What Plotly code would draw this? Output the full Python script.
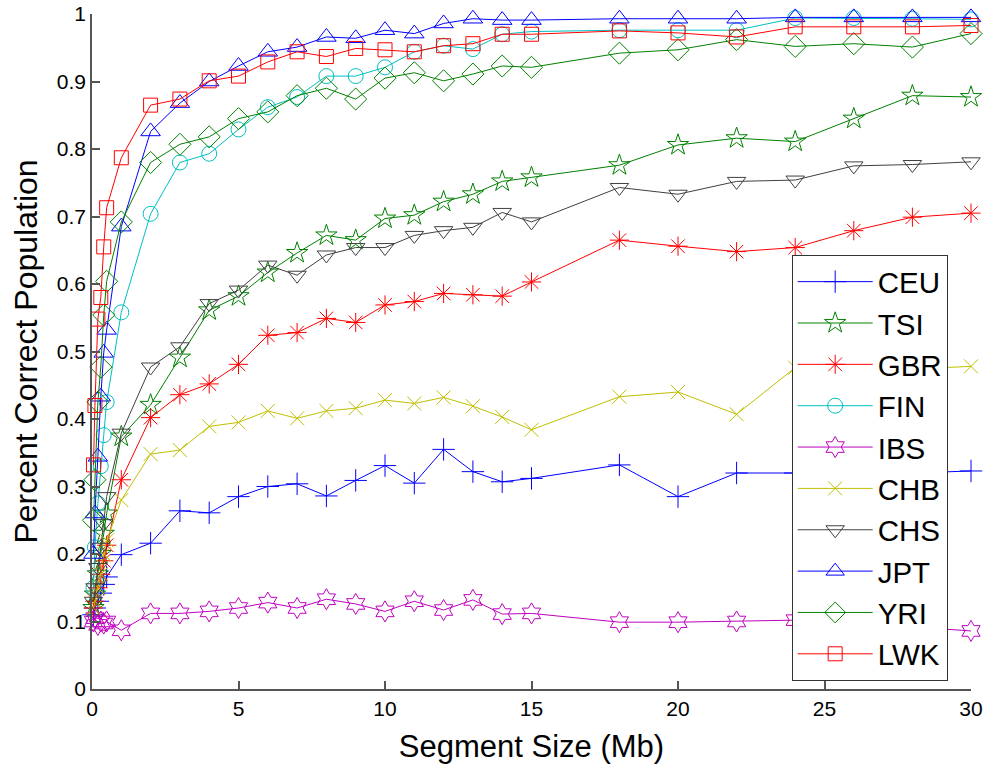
import plotly.graph_objects as go

# Segment sizes (Mb)
seg_size = [0.05, 0.1, 0.2, 0.3, 0.4, 0.5, 1, 2, 3, 4, 5, 6, 7, 8, 9, 10,
            11, 12, 13, 14, 15, 18, 20, 22, 24, 26, 28, 30]

CEU = [0.11, 0.12, 0.13, 0.142, 0.155, 0.166, 0.199, 0.216, 0.264, 0.261, 0.285, 0.300, 0.304, 0.286,
       0.309, 0.331, 0.305, 0.355, 0.322, 0.307, 0.312, 0.332, 0.285, 0.320, 0.320, 0.318, 0.320, 0.323]
TSI = [0.12, 0.14, 0.17, 0.2, 0.23, 0.26, 0.374, 0.421, 0.491, 0.561, 0.582, 0.617, 0.646, 0.672,
       0.665, 0.697, 0.702, 0.722, 0.733, 0.752, 0.758, 0.776, 0.806, 0.816, 0.811, 0.845, 0.879, 0.877]
GBR = [0.12, 0.13, 0.15, 0.17, 0.19, 0.213, 0.310, 0.402, 0.436, 0.452, 0.481, 0.524, 0.528, 0.549,
       0.543, 0.569, 0.574, 0.586, 0.584, 0.582, 0.603, 0.665, 0.656, 0.648, 0.654, 0.679, 0.699, 0.705]
FIN = [0.15, 0.21, 0.275, 0.33, 0.376, 0.425, 0.558, 0.704, 0.780, 0.793, 0.829, 0.862, 0.877, 0.908,
       0.908, 0.921, 0.944, 0.953, 0.948, 0.970, 0.974, 0.976, 0.976, 0.976, 0.994, 0.994, 0.993, 0.992]
IBS = [0.1, 0.105, 0.095, 0.1, 0.097, 0.1, 0.087, 0.112, 0.112, 0.115, 0.120, 0.128, 0.120, 0.133,
       0.126, 0.115, 0.130, 0.117, 0.132, 0.111, 0.112, 0.099, 0.099, 0.100, 0.102, 0.096, 0.092, 0.086]
CHB = [0.12, 0.13, 0.15, 0.17, 0.2, 0.22, 0.280, 0.348, 0.354, 0.389, 0.395, 0.412, 0.401, 0.412,
       0.416, 0.428, 0.423, 0.432, 0.419, 0.403, 0.384, 0.433, 0.440, 0.407, 0.476, 0.470, 0.474, 0.478]
CHS = [0.13, 0.15, 0.18, 0.21, 0.245, 0.285, 0.379, 0.477, 0.507, 0.571, 0.591, 0.628, 0.613, 0.643,
       0.654, 0.654, 0.672, 0.679, 0.684, 0.706, 0.692, 0.743, 0.733, 0.752, 0.754, 0.775, 0.777, 0.781]
JPT = [0.2, 0.26, 0.344, 0.433, 0.498, 0.532, 0.685, 0.826, 0.868, 0.900, 0.923, 0.944, 0.951, 0.966,
       0.964, 0.976, 0.971, 0.986, 0.993, 0.991, 0.991, 0.993, 0.993, 0.993, 0.995, 0.995, 0.995, 0.995]
YRI = [0.25, 0.31, 0.425, 0.477, 0.554, 0.604, 0.692, 0.780, 0.807, 0.818, 0.845, 0.855, 0.879, 0.890,
       0.874, 0.905, 0.913, 0.901, 0.911, 0.923, 0.921, 0.942, 0.947, 0.962, 0.952, 0.956, 0.951, 0.971]
LWK = [0.332, 0.42, 0.548, 0.58, 0.655, 0.713, 0.787, 0.865, 0.874, 0.901, 0.908, 0.929, 0.944, 0.937,
       0.949, 0.947, 0.944, 0.953, 0.956, 0.970, 0.970, 0.975, 0.972, 0.966, 0.981, 0.981, 0.981, 0.983]

names = ["CEU", "TSI", "GBR", "FIN", "IBS", "CHB", "CHS", "JPT", "YRI", "LWK"]
series = [CEU, TSI, GBR, FIN, IBS, CHB, CHS, JPT, YRI, LWK]
colors = ["#0000FF", "#008000", "#FF0000", "#00BFBF", "#BF00BF",
          "#BFBF00", "#404040", "#0000FF", "#008000", "#FF0000"]
symbols = ["cross-thin-open", "star-open", "asterisk-open", "circle-open", "hexagram-open",
           "x-thin-open", "triangle-down-open", "triangle-up-open", "diamond-open", "square-open"]
sizes = [16, 16, 16, 15, 16, 14, 16, 17, 17, 14]

fig = go.Figure()
for name, ys, c, s, sz in zip(names, series, colors, symbols, sizes):
    fig.add_trace(go.Scatter(
        x=seg_size, y=ys, name=name, mode="lines+markers",
        line=dict(color=c, width=1),
        marker=dict(symbol=s, size=sz, color=c, line=dict(color=c, width=1)),
        cliponaxis=False,
    ))

FONT = "Liberation Sans, Arial, sans-serif"
axis_font = dict(family=FONT, size=21, color="black")
fig.update_layout(
    width=986, height=769,
    margin=dict(l=92, r=15, t=14, b=80),
    plot_bgcolor="white", paper_bgcolor="white",
    font=dict(family=FONT, color="black"),
    showlegend=True,
    legend=dict(
        x=0.796, y=0.643, xanchor="left", yanchor="top",
        bordercolor="#333333", borderwidth=1, bgcolor="white",
        font=dict(size=29.5, family=FONT),
        traceorder="normal", itemwidth=75,
    ),
    xaxis=dict(
        range=[0, 30], tickvals=[0, 5, 10, 15, 20, 25, 30],
        ticks="inside", ticklen=8, tickcolor="#555555", tickwidth=1.5,
        showline=True, linecolor="#555555", linewidth=1.5, mirror=False,
        showgrid=False, zeroline=False, tickfont=axis_font, automargin=False,
        title=dict(text="Segment Size (Mb)", font=dict(size=31), standoff=16),
    ),
    yaxis=dict(
        range=[0, 1], tickvals=[0, 0.1, 0.2, 0.3, 0.4, 0.5, 0.6, 0.7, 0.8, 0.9, 1],
        ticktext=["0", "0.1", "0.2", "0.3", "0.4", "0.5", "0.6", "0.7", "0.8", "0.9", "1"],
        ticks="inside", ticklen=8, tickcolor="#555555", tickwidth=1.5,
        showline=True, linecolor="#555555", linewidth=1.5, mirror=False,
        showgrid=False, zeroline=False, tickfont=axis_font, automargin=False,
        title=dict(text="Percent Correct Population", font=dict(size=32), standoff=10),
    ),
)

fig.write_html("out.html")
